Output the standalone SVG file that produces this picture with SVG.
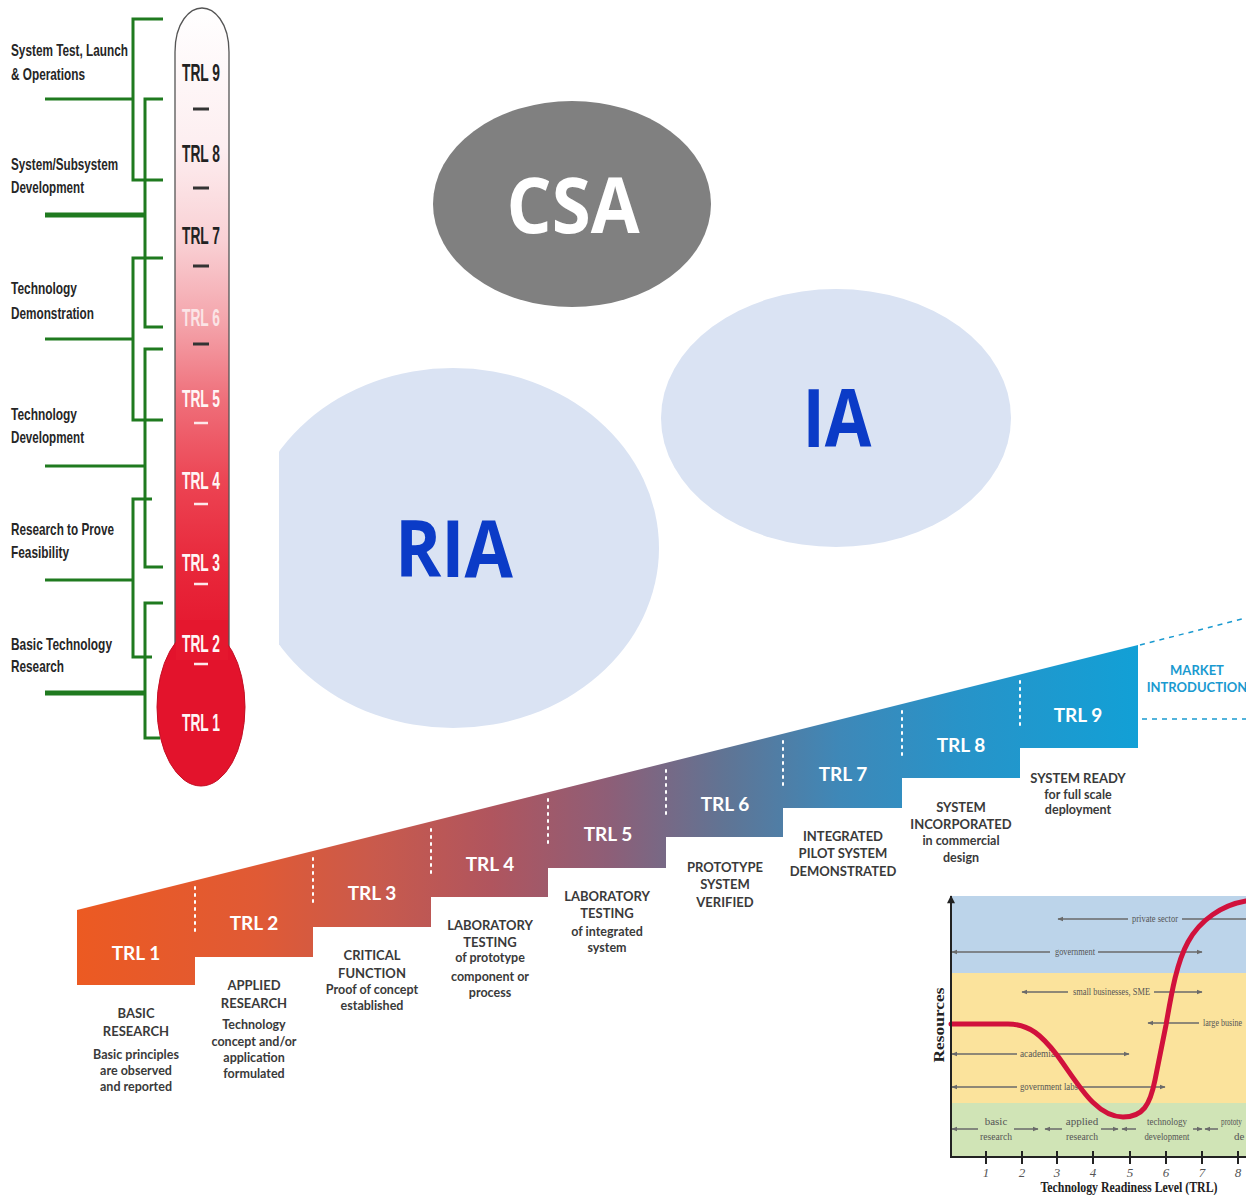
<svg xmlns="http://www.w3.org/2000/svg" width="1246" height="1199" viewBox="0 0 1246 1199">
<defs>
<style>
.thl{font-family:"Liberation Sans Narrow","Liberation Sans",sans-serif;font-weight:bold;font-size:17px;fill:#262626}
.tt{font-family:"Liberation Sans Narrow","Liberation Sans",sans-serif;font-weight:bold;font-size:23px;text-anchor:middle}
.g{stroke:#1f7a1f;stroke-width:3;fill:none}
.gt{stroke-width:5}
.dk{stroke:#333;stroke-width:3}
.wd{stroke:#fde8ea;stroke-width:2.5}
.big{font-family:"Open Sans","Liberation Sans",sans-serif;font-weight:bold;text-anchor:middle}
.sl{font-family:Lato,"Open Sans",sans-serif;font-weight:700;font-size:19px;fill:#fff;text-anchor:middle}
.su{font-family:Lato,"Open Sans",sans-serif;font-weight:700;font-size:13px;fill:#3a3a3a;text-anchor:middle}
.sd{font-family:Lato,"Open Sans",sans-serif;font-weight:700;font-size:12.5px;fill:#3a3a3a;text-anchor:middle}
.dot{stroke:#fff;stroke-width:2;stroke-dasharray:2 5;stroke-linecap:round}
.mk{font-family:Lato,"Open Sans",sans-serif;font-weight:700;font-size:13px;fill:#1a9ad0;text-anchor:middle}
.dsh{stroke:#1a9ad0;stroke-width:1.5;stroke-dasharray:5 5;fill:none}
.cl{font-family:"Liberation Serif",serif;font-size:11px;fill:#555}
.ax{stroke:#222;stroke-width:2;fill:none}
.ar{stroke:#6a6a6a;stroke-width:1.5;fill:none}
.tk{font-family:"Liberation Serif",serif;font-style:italic;font-size:13px;fill:#555;text-anchor:middle}
</style>
<linearGradient id="tube" x1="0" y1="8" x2="0" y2="640" gradientUnits="userSpaceOnUse">
<stop offset="0" stop-color="#ffffff"/>
<stop offset="0.22" stop-color="#fdeef0"/>
<stop offset="0.37" stop-color="#f9d0d4"/>
<stop offset="0.5" stop-color="#f4a3aa"/>
<stop offset="0.62" stop-color="#ef6f7a"/>
<stop offset="0.75" stop-color="#ec4453"/>
<stop offset="0.88" stop-color="#e8283b"/>
<stop offset="1" stop-color="#e5172e"/>
</linearGradient>
<linearGradient id="stair" x1="77" y1="0" x2="1138" y2="0" gradientUnits="userSpaceOnUse">
<stop offset="0" stop-color="#ec5a22"/>
<stop offset="0.17" stop-color="#e05a35"/>
<stop offset="0.28" stop-color="#c95a4c"/>
<stop offset="0.39" stop-color="#b0555e"/>
<stop offset="0.5" stop-color="#8e5e77"/>
<stop offset="0.61" stop-color="#607494"/>
<stop offset="0.72" stop-color="#3e88b8"/>
<stop offset="0.83" stop-color="#2893c8"/>
<stop offset="1" stop-color="#12a0d6"/>
</linearGradient>
<marker id="ah" viewBox="0 0 10 10" refX="9" refY="5" markerWidth="6" markerHeight="6" orient="auto-start-reverse" markerUnits="userSpaceOnUse">
<path d="M0,1 L10,5 L0,9 Z" fill="#6a6a6a"/>
</marker>
<marker id="ya" viewBox="0 0 10 10" refX="5" refY="1" markerWidth="8" markerHeight="10" orient="0" markerUnits="userSpaceOnUse">
<path d="M5,0 L10,10 L0,10 Z" fill="#222"/>
</marker>
<clipPath id="riaclip"><rect x="279" y="0" width="967" height="1199"/></clipPath>
</defs>
<rect width="1246" height="1199" fill="#ffffff"/>

<!-- Thermometer -->
<g id="thermometer">
<path d="M175,650 V52 C175,22 190,8 202,8 C214,8 229,22 229,52 V650" fill="url(#tube)" stroke="#555" stroke-width="1.3"/>
<ellipse cx="201" cy="707" rx="44" ry="79" fill="#e3132c" stroke="#c40f25" stroke-width="1"/>
<rect x="176" y="620" width="52" height="40" fill="#e5172e"/>
<g id="thermo-dashes">
<line class="dk" x1="193" y1="109" x2="209" y2="109"/>
<line class="dk" x1="193" y1="188" x2="209" y2="188"/>
<line class="dk" x1="193" y1="266" x2="209" y2="266"/>
<line class="dk" x1="193" y1="344" x2="209" y2="344"/>
<line class="wd" x1="194" y1="423" x2="208" y2="423"/>
<line class="wd" x1="194" y1="504" x2="208" y2="504"/>
<line class="wd" x1="194" y1="584" x2="208" y2="584"/>
<line class="wd" x1="194" y1="664" x2="208" y2="664"/>
</g>
<g id="thermo-labels">
<text class="tt" x="201" y="81" fill="#222" textLength="38" lengthAdjust="spacingAndGlyphs">TRL 9</text>
<text class="tt" x="201" y="162" fill="#222" textLength="38" lengthAdjust="spacingAndGlyphs">TRL 8</text>
<text class="tt" x="201" y="244" fill="#222" textLength="38" lengthAdjust="spacingAndGlyphs">TRL 7</text>
<text class="tt" x="201" y="326" fill="#fbe4e6" textLength="38" lengthAdjust="spacingAndGlyphs">TRL 6</text>
<text class="tt" x="201" y="407" fill="#fff5f5" textLength="38" lengthAdjust="spacingAndGlyphs">TRL 5</text>
<text class="tt" x="201" y="489" fill="#fff5f5" textLength="38" lengthAdjust="spacingAndGlyphs">TRL 4</text>
<text class="tt" x="201" y="571" fill="#fff5f5" textLength="38" lengthAdjust="spacingAndGlyphs">TRL 3</text>
<text class="tt" x="201" y="652" fill="#fff5f5" textLength="38" lengthAdjust="spacingAndGlyphs">TRL 2</text>
<text class="tt" x="201" y="731" fill="#fff5f5" textLength="38" lengthAdjust="spacingAndGlyphs">TRL 1</text>
</g>
</g>

<!-- Brackets -->
<g id="brackets">
<path class="g" d="M163,19 H133 V180 H163 M133,99 H45"/>
<path class="g" d="M163,99 H145 V327 H163"/>
<path class="g gt" d="M145,215 H45"/>
<path class="g" d="M163,258 H133 V420 H163 M133,339 H45"/>
<path class="g" d="M163,349 H145 V567 H163 M145,466 H45"/>
<path class="g" d="M152,499 H133 V657 H152 M133,580 H45"/>
<path class="g" d="M163,603 H145 V738 H160"/>
<path class="g gt" d="M145,693 H45"/>
</g>
<g id="phase-labels">
<text class="thl" x="11" y="56" textLength="117" lengthAdjust="spacingAndGlyphs">System Test, Launch</text>
<text class="thl" x="11" y="80" textLength="74" lengthAdjust="spacingAndGlyphs">&amp; Operations</text>
<text class="thl" x="11" y="170" textLength="107" lengthAdjust="spacingAndGlyphs">System/Subsystem</text>
<text class="thl" x="11" y="193" textLength="73" lengthAdjust="spacingAndGlyphs">Development</text>
<text class="thl" x="11" y="294" textLength="66" lengthAdjust="spacingAndGlyphs">Technology</text>
<text class="thl" x="11" y="319" textLength="83" lengthAdjust="spacingAndGlyphs">Demonstration</text>
<text class="thl" x="11" y="420" textLength="66" lengthAdjust="spacingAndGlyphs">Technology</text>
<text class="thl" x="11" y="443" textLength="73" lengthAdjust="spacingAndGlyphs">Development</text>
<text class="thl" x="11" y="535" textLength="103" lengthAdjust="spacingAndGlyphs">Research to Prove</text>
<text class="thl" x="11" y="558" textLength="58" lengthAdjust="spacingAndGlyphs">Feasibility</text>
<text class="thl" x="11" y="650" textLength="101" lengthAdjust="spacingAndGlyphs">Basic Technology</text>
<text class="thl" x="11" y="672" textLength="53" lengthAdjust="spacingAndGlyphs">Research</text>
</g>

<!-- Ellipses -->
<g id="csa">
<ellipse cx="572" cy="204" rx="139" ry="103" fill="#808080"/>
<text class="big" x="573" y="233" font-size="77" fill="#fff" textLength="133" lengthAdjust="spacingAndGlyphs">CSA</text>
</g>
<g id="ia">
<ellipse cx="836" cy="418" rx="175" ry="129" fill="#dae3f3"/>
<text class="big" x="837" y="447" font-size="80" fill="#0b3bc7" textLength="69" lengthAdjust="spacingAndGlyphs">IA</text>
</g>
<g id="ria">
<ellipse cx="453" cy="548" rx="206" ry="180" fill="#dae3f3" clip-path="url(#riaclip)"/>
<text class="big" x="454" y="577" font-size="78" fill="#0b3bc7" textLength="118" lengthAdjust="spacingAndGlyphs">RIA</text>
</g>

<!-- Staircase -->
<g id="staircase">
<path d="M77,910 L1138,645 L1138,748 L1020,748 L1020,778 L902,778 L902,808 L783,808 L783,837 L666,837 L666,868 L548,868 L548,897 L431,897 L431,927 L313,927 L313,957 L195,957 L195,985 L77,985 Z" fill="url(#stair)"/>
<line class="dot" x1="195" y1="887" x2="195" y2="932"/>
<line class="dot" x1="313" y1="858" x2="313" y2="903"/>
<line class="dot" x1="431" y1="829" x2="431" y2="874"/>
<line class="dot" x1="548" y1="799" x2="548" y2="844"/>
<line class="dot" x1="666" y1="770" x2="666" y2="815"/>
<line class="dot" x1="783" y1="741" x2="783" y2="786"/>
<line class="dot" x1="902" y1="711" x2="902" y2="756"/>
<line class="dot" x1="1020" y1="681" x2="1020" y2="726"/>
<path class="dsh" d="M1140,645 L1246,618"/>
<path class="dsh" d="M1142,719 H1246"/>
<text class="mk" x="1197" y="675">MARKET</text>
<text class="mk" x="1197" y="692">INTRODUCTION</text>
</g>
<g id="step1"><text class="sl" x="136" y="960">TRL 1</text>
<text class="su" x="136" y="1018">BASIC</text><text class="su" x="136" y="1036">RESEARCH</text>
<text class="sd" x="136" y="1059">Basic principles</text><text class="sd" x="136" y="1075">are observed</text><text class="sd" x="136" y="1091">and reported</text></g>
<g id="step2"><text class="sl" x="254" y="930">TRL 2</text>
<text class="su" x="254" y="990">APPLIED</text><text class="su" x="254" y="1008">RESEARCH</text>
<text class="sd" x="254" y="1029">Technology</text><text class="sd" x="254" y="1046">concept and/or</text><text class="sd" x="254" y="1062">application</text><text class="sd" x="254" y="1078">formulated</text></g>
<g id="step3"><text class="sl" x="372" y="900">TRL 3</text>
<text class="su" x="372" y="960">CRITICAL</text><text class="su" x="372" y="978">FUNCTION</text>
<text class="sd" x="372" y="994">Proof of concept</text><text class="sd" x="372" y="1010">established</text></g>
<g id="step4"><text class="sl" x="490" y="871">TRL 4</text>
<text class="su" x="490" y="930">LABORATORY</text><text class="su" x="490" y="947">TESTING</text>
<text class="sd" x="490" y="962">of prototype</text><text class="sd" x="490" y="981">component or</text><text class="sd" x="490" y="997">process</text></g>
<g id="step5"><text class="sl" x="608" y="841">TRL 5</text>
<text class="su" x="607" y="901">LABORATORY</text><text class="su" x="607" y="918">TESTING</text>
<text class="sd" x="607" y="936">of integrated</text><text class="sd" x="607" y="952">system</text></g>
<g id="step6"><text class="sl" x="725" y="811">TRL 6</text>
<text class="su" x="725" y="872">PROTOTYPE</text><text class="su" x="725" y="889">SYSTEM</text><text class="su" x="725" y="907">VERIFIED</text></g>
<g id="step7"><text class="sl" x="843" y="781">TRL 7</text>
<text class="su" x="843" y="841">INTEGRATED</text><text class="su" x="843" y="858">PILOT SYSTEM</text><text class="su" x="843" y="876">DEMONSTRATED</text></g>
<g id="step8"><text class="sl" x="961" y="752">TRL 8</text>
<text class="su" x="961" y="812">SYSTEM</text><text class="su" x="961" y="829">INCORPORATED</text>
<text class="sd" x="961" y="845">in commercial</text><text class="sd" x="961" y="862">design</text></g>
<g id="step9"><text class="sl" x="1078" y="722">TRL 9</text>
<text class="su" x="1078" y="783">SYSTEM READY</text>
<text class="sd" x="1078" y="799">for full scale</text><text class="sd" x="1078" y="814">deployment</text></g>

<!-- Chart -->
<g id="chart">
<rect x="951" y="896" width="295" height="77" fill="#bcd4ea"/>
<rect x="951" y="973" width="295" height="130" fill="#fbe39c"/>
<rect x="951" y="1103" width="295" height="54" fill="#d0e4b6"/>
<g id="chart-connectors">
<line class="ar" x1="1128" y1="919" x2="1058" y2="919" marker-end="url(#ah)"/>
<line class="ar" x1="1182" y1="919" x2="1246" y2="919"/>
<line class="ar" x1="1050" y1="952" x2="952" y2="952" marker-end="url(#ah)"/>
<line class="ar" x1="1098" y1="952" x2="1202" y2="952" marker-end="url(#ah)"/>
<line class="ar" x1="1068" y1="992" x2="1022" y2="992" marker-end="url(#ah)"/>
<line class="ar" x1="1154" y1="992" x2="1202" y2="992" marker-end="url(#ah)"/>
<line class="ar" x1="1199" y1="1023" x2="1148" y2="1023" marker-end="url(#ah)"/>
<line class="ar" x1="1017" y1="1054" x2="952" y2="1054" marker-end="url(#ah)"/>
<line class="ar" x1="1058" y1="1054" x2="1129" y2="1054" marker-end="url(#ah)"/>
<line class="ar" x1="1017" y1="1087" x2="952" y2="1087" marker-end="url(#ah)"/>
<line class="ar" x1="1081" y1="1087" x2="1165" y2="1087" marker-end="url(#ah)"/>
<line class="ar" x1="978" y1="1129" x2="952" y2="1129" marker-end="url(#ah)"/>
<line class="ar" x1="1014" y1="1129" x2="1038" y2="1129" marker-end="url(#ah)"/>
<line class="ar" x1="1062" y1="1129" x2="1045" y2="1129" marker-end="url(#ah)"/>
<line class="ar" x1="1101" y1="1129" x2="1118" y2="1129" marker-end="url(#ah)"/>
<line class="ar" x1="1136" y1="1129" x2="1122" y2="1129" marker-end="url(#ah)"/>
<line class="ar" x1="1193" y1="1129" x2="1202" y2="1129" marker-end="url(#ah)"/>
<line class="ar" x1="1218" y1="1129" x2="1205" y2="1129" marker-end="url(#ah)"/>
</g>
<g id="chart-labels">
<text class="cl" x="1132" y="922" textLength="46" lengthAdjust="spacingAndGlyphs">private sector</text>
<text class="cl" x="1055" y="955" textLength="40" lengthAdjust="spacingAndGlyphs">government</text>
<text class="cl" x="1073" y="995" textLength="77" lengthAdjust="spacingAndGlyphs">small businesses, SME</text>
<text class="cl" x="1203" y="1026" textLength="39" lengthAdjust="spacingAndGlyphs">large busine</text>
<text class="cl" x="1020" y="1057" textLength="35" lengthAdjust="spacingAndGlyphs">academia</text>
<text class="cl" x="1020" y="1090" textLength="58" lengthAdjust="spacingAndGlyphs">government labs</text>
<text class="cl" x="996" y="1125" text-anchor="middle">basic</text>
<text class="cl" x="996" y="1140" text-anchor="middle" textLength="32" lengthAdjust="spacingAndGlyphs">research</text>
<text class="cl" x="1082" y="1125" text-anchor="middle">applied</text>
<text class="cl" x="1082" y="1140" text-anchor="middle" textLength="32" lengthAdjust="spacingAndGlyphs">research</text>
<text class="cl" x="1167" y="1125" text-anchor="middle" textLength="40" lengthAdjust="spacingAndGlyphs">technology</text>
<text class="cl" x="1167" y="1140" text-anchor="middle" textLength="45" lengthAdjust="spacingAndGlyphs">development</text>
<text class="cl" x="1221" y="1125" textLength="21" lengthAdjust="spacingAndGlyphs">prototy</text>
<text class="cl" x="1234" y="1140">de</text>
</g>
<path d="M951,1024 H1008 C1030,1024 1042,1036 1057,1055 C1077,1082 1095,1117 1123,1117 C1143,1117 1150,1105 1155,1080 L1166,1025 C1172,990 1177,962 1188,942 C1200,920 1222,905 1246,901" fill="none" stroke="#d1113c" stroke-width="5" stroke-linecap="round"/>
<line class="ax" x1="951" y1="1158" x2="951" y2="896" marker-end="url(#ya)"/>
<line class="ax" x1="950" y1="1157" x2="1246" y2="1157"/>
<g stroke="#222" stroke-width="2">
<line x1="986" y1="1151" x2="986" y2="1164"/><line x1="1022" y1="1151" x2="1022" y2="1164"/>
<line x1="1057" y1="1151" x2="1057" y2="1164"/><line x1="1093" y1="1151" x2="1093" y2="1164"/>
<line x1="1130" y1="1151" x2="1130" y2="1164"/><line x1="1166" y1="1151" x2="1166" y2="1164"/>
<line x1="1202" y1="1151" x2="1202" y2="1164"/><line x1="1238" y1="1151" x2="1238" y2="1164"/>
</g>
<text class="tk" x="986" y="1177">1</text><text class="tk" x="1022" y="1177">2</text>
<text class="tk" x="1057" y="1177">3</text><text class="tk" x="1093" y="1177">4</text>
<text class="tk" x="1130" y="1177">5</text><text class="tk" x="1166" y="1177">6</text>
<text class="tk" x="1202" y="1177">7</text><text class="tk" x="1238" y="1177">8</text>
<text x="1129" y="1192" text-anchor="middle" font-family="Liberation Serif,serif" font-weight="bold" font-size="14" fill="#222" textLength="177" lengthAdjust="spacingAndGlyphs">Technology Readiness Level (TRL)</text>
<text x="0" y="0" transform="translate(944,1025) rotate(-90)" text-anchor="middle" font-family="Liberation Serif,serif" font-weight="bold" font-size="14" fill="#222" textLength="75" lengthAdjust="spacingAndGlyphs">Resources</text>
</g>
</svg>
